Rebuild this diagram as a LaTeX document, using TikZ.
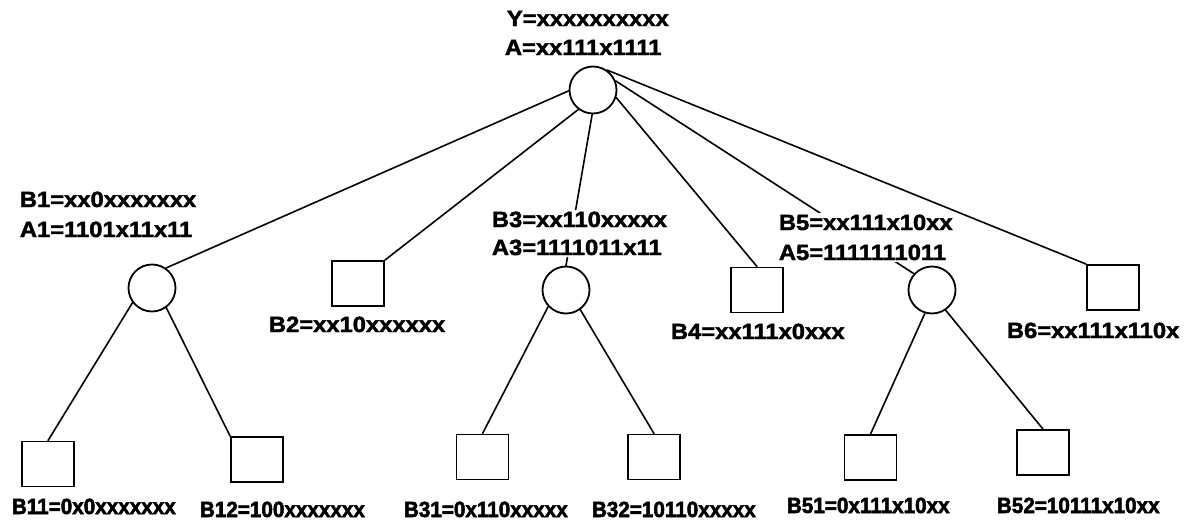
\documentclass[tikz,border=0pt]{standalone}
\usepackage{fontspec}
\newfontfamily\upperfont{Liberation Sans}[FakeStretch=1.08,FakeBold=2]
\newfontfamily\leaffont{Liberation Sans}[FakeStretch=0.94,FakeBold=2.4]
\usetikzlibrary{backgrounds}
\begin{document}
\begin{tikzpicture}[x=1pt, y=-1pt, line width=1.8pt,
  circnode/.style={circle, draw, minimum size=47pt, inner sep=0pt},
  boxnode/.style={rectangle, draw, minimum width=52pt, minimum height=45pt, inner sep=0pt},
  edgeline/.style={draw, line width=1.6pt, line cap=round},
  lbl/.style={anchor=base west, fill=white, inner xsep=1pt, inner ysep=2pt,
    font=\upperfont\bfseries\fontsize{22}{26}\selectfont},
  firstline/.style={lbl, text depth=11pt},
  leaflbl/.style={lbl, font=\leaffont\bfseries\fontsize{22}{26}\selectfont}]
\useasboundingbox (0,0) rectangle (1202,522);

% tree nodes
\node[circnode] (root) at (593,90) {};
\node[circnode] (b1) at (152,288) {};
\node[boxnode]  (b2) at (358,283.5) {};
\node[circnode] (b3) at (566,290) {};
\node[boxnode]  (b4) at (757,290) {};
\node[circnode] (b5) at (932,290) {};
\node[boxnode]  (b6) at (1113,287.5) {};
\node[boxnode]  (b11) at (48,464) {};
\node[boxnode]  (b12) at (257,459.5) {};
\node[boxnode]  (b31) at (482.5,457) {};
\node[boxnode]  (b32) at (654,457) {};
\node[boxnode]  (b51) at (870.5,457.5) {};
\node[boxnode]  (b52) at (1043,452.5) {};

% labels
\node[firstline] (ly)  at (505,26) {Y=xxxxxxxxxx};
\node[lbl] (la)  at (503,55) {A=xx111x1111};
\node[firstline] (lb1) at (18,207) {B1=xx0xxxxxxx};
\node[lbl] (la1) at (18,237) {A1=1101x11x11};
\node[firstline] (lb3) at (490,227) {B3=xx110xxxxx};
\node[lbl] (la3) at (490,255) {A3=1111011x11};
\node[firstline] (lb5) at (777,230) {B5=xx111x10xx};
\node[lbl] (la5) at (777,260) {A5=1111111011};
\node[lbl] (lb2) at (267,332) {B2=xx10xxxxxx};
\node[lbl] (lb4) at (669,339) {B4=xx111x0xxx};
\node[lbl] (lb6) at (1005,338) {B6=xx111x110x};
\node[leaflbl] (lb11) at (10,514) {B11=0x0xxxxxxx};
\node[leaflbl] (lb12) at (198,517) {B12=100xxxxxxx};
\node[leaflbl] (lb31) at (402,517) {B31=0x110xxxxx};
\node[leaflbl] (lb32) at (590,517) {B32=10110xxxxx};
\node[leaflbl] (lb51) at (785,513) {B51=0x111x10xx};
\node[leaflbl] (lb52) at (995,513) {B52=10111x10xx};

% connectors, kept behind the labels
\begin{pgfonlayer}{background}
\fill[white] (0,0) rectangle (1202,522);
\path[edgeline] (root.182) -- (b1.55);
\path[edgeline] (root.233) -- (b2.north east);
\path[edgeline] (root.268) -- (b3.north);
\path[edgeline] (root.-18) -- (b4.north);
\path[edgeline] (root.22) -- (b5.138);
\path[edgeline] (root.55) -- (b6.north west);
\path[edgeline] (b1.217) -- (b11.north);
\path[edgeline] (b1.-54) -- (b12.north west);
\path[edgeline] (b3.223) -- (b31.north);
\path[edgeline] (b3.-54) -- (b32.north);
\path[edgeline] (b5.253) -- (b51.north);
\path[edgeline] (b5.-56) -- (b52.north);
\end{pgfonlayer}
\end{tikzpicture}
\end{document}
